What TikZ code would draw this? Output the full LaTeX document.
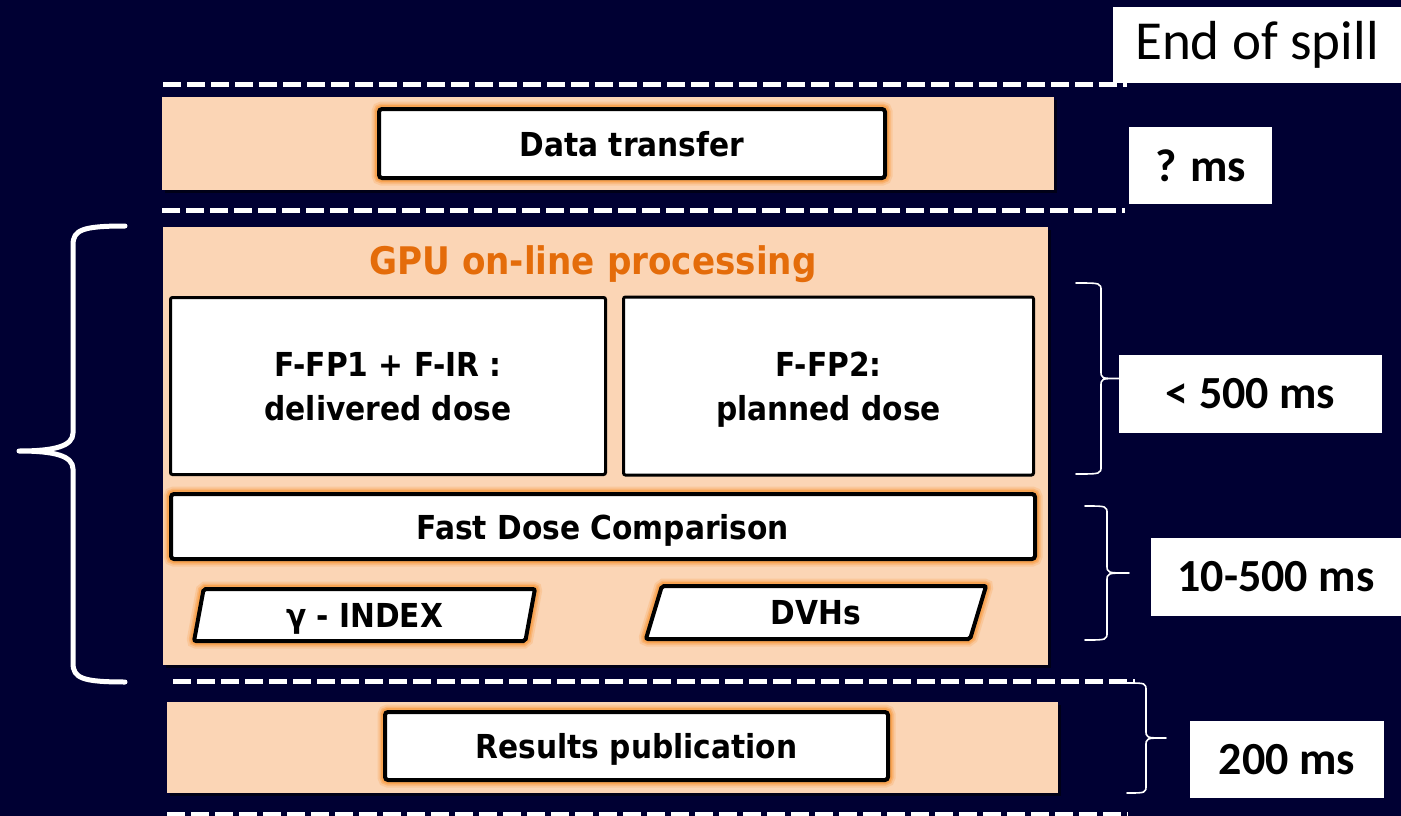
\documentclass[tikz,border=0pt]{standalone}
\usepackage{fontspec}
\usetikzlibrary{shapes.geometric,shadows}
\newfontfamily\boxfont{DejaVu Sans Condensed}
\newfontfamily\labelfont{Carlito}
\definecolor{navy}{RGB}{0,0,51}
\definecolor{peach}{RGB}{251,213,181}
\definecolor{titleorange}{RGB}{228,108,10}
\definecolor{glow}{RGB}{248,160,75}

% right-hand curly brace: end x, spine x, tip x, top y, bottom y
\newcommand\timebrace[5]{%
  \pgfmathsetmacro\bracemid{(#4+#5)/2}%
  \draw[brace] (#1,#4) .. controls (#2,#4) .. (#2,#4+8) -- (#2,\bracemid-8)
    .. controls (#2,\bracemid) .. (#3,\bracemid)
    .. controls (#2,\bracemid) .. (#2,\bracemid+8) -- (#2,#5-8)
    .. controls (#2,#5) .. (#1,#5);}

\begin{document}
\begin{tikzpicture}[x=1pt,y=-1pt,
  band/.style={fill=peach, draw=none, inner sep=0pt,
    drop shadow={shadow xshift=3pt, shadow yshift=-3pt, fill=black, opacity=0.55}},
  glowbox/.style={fill=white, draw=black, line width=4pt, rounded corners=3pt, inner sep=0pt,
    preaction={draw=glow, line width=15pt, draw opacity=0.25},
    preaction={draw=glow, line width=11pt, draw opacity=0.45},
    preaction={draw=glow, line width=8pt, draw opacity=0.8}},
  plainbox/.style={fill=white, draw=black, line width=3pt, rounded corners=2pt, inner sep=0pt},
  slanted/.style={glowbox, shape=trapezium, trapezium left angle=79, trapezium right angle=101,
    trapezium stretches=true, rounded corners=2pt},
  boxtext/.style={font=\boxfont\bfseries\fontsize{33}{44}\selectfont, text=black, align=center,
    text depth=0pt},
  timelabel/.style={fill=white, inner sep=0pt, text=black,
    font=\labelfont\bfseries\fontsize{46}{50}\selectfont},
  sep/.style={draw=white, line width=5pt, dash pattern=on 18pt off 6pt},
  brace/.style={draw=white, line width=1.6pt, line cap=round, line join=round},
  bigbrace/.style={draw=white, line width=5pt, line cap=round, line join=round}
]
\path[use as bounding box, fill=navy] (0,0) rectangle (1401,816);

% phase bands
\node[band, minimum width=892pt, minimum height=93pt] (transferband) at (608,143.5) {};
\node[band, minimum width=885pt, minimum height=438pt] (gpuband) at (605.5,446) {};
\node[band, minimum width=891pt, minimum height=91pt] (publishband) at (612.5,747.5) {};

% separators between phases
\coordinate (s1a) at (163,85);  \coordinate (s1b) at (1127,85);
\coordinate (s2a) at (162,210); \coordinate (s2b) at (1125,210);
\coordinate (s3a) at (173,681); \coordinate (s3b) at (1135,681);
\coordinate (s4a) at (167,814); \coordinate (s4b) at (1128,814);
\draw[sep] (s1a) -- (s1b);
\draw[sep] (s2a) -- (s2b);
\draw[sep] (s3a) -- (s3b);
\draw[sep] (s4a) -- (s4b);

% processing steps
\node[glowbox, minimum width=506pt, minimum height=69pt, boxtext] (transfer) at (632,143.5) {Data transfer};
\node[font=\boxfont\bfseries\fontsize{38}{40}\selectfont, text=titleorange, text depth=0pt] (gputitle) at (593,260) {GPU on-line processing};
\node[plainbox, minimum width=435pt, minimum height=177pt, boxtext] (delivered) at (388,386) {F-FP1 + F-IR :\\delivered dose};
\node[plainbox, minimum width=410pt, minimum height=178pt, boxtext] (planned) at (828.5,386) {F-FP2:\\planned dose};
\node[glowbox, minimum width=864pt, minimum height=65pt, boxtext] (compare) at (603,526.5) {Fast Dose Comparison};
\node[slanted, minimum width=341pt, minimum height=52pt, boxtext] (gamma) at (364.5,615) {γ - INDEX};
\node[slanted, minimum width=342pt, minimum height=53pt, boxtext] (dvh) at (816,612.5) {DVHs};
\node[glowbox, minimum width=503pt, minimum height=68pt, boxtext] (publish) at (636.5,746) {Results publication};

% time labels
\node[fill=white, inner sep=0pt, text=black, font=\labelfont\fontsize{55}{60}\selectfont,
  minimum width=288pt, minimum height=76pt] (spill) at (1257,45) {End of spill};
\node[timelabel, minimum width=143pt, minimum height=77pt] (ttransfer) at (1200.5,165.5) {? ms};
\node[timelabel, minimum width=263pt, minimum height=78pt] (tfp) at (1250.5,394) {< 500 ms};
\node[timelabel, minimum width=250pt, minimum height=78pt] (tcompare) at (1276,577) {10-500 ms};
\node[timelabel, minimum width=194pt, minimum height=77pt] (tpublish) at (1287,759.5) {200 ms};

% braces grouping the timings
\timebrace{1076}{1101}{1119}{283}{474}
\timebrace{1085}{1107}{1129}{506}{640}
\timebrace{1127}{1146}{1166}{683}{793}

\draw[bigbrace] (125,226) .. controls (82,226) and (73,230) .. (73,245) -- (73,433)
  .. controls (73,446) and (55,451) .. (19,451)
  .. controls (55,451) and (73,456) .. (73,469) -- (73,663)
  .. controls (73,678) and (82,682) .. (125,682);
\end{tikzpicture}
\end{document}
